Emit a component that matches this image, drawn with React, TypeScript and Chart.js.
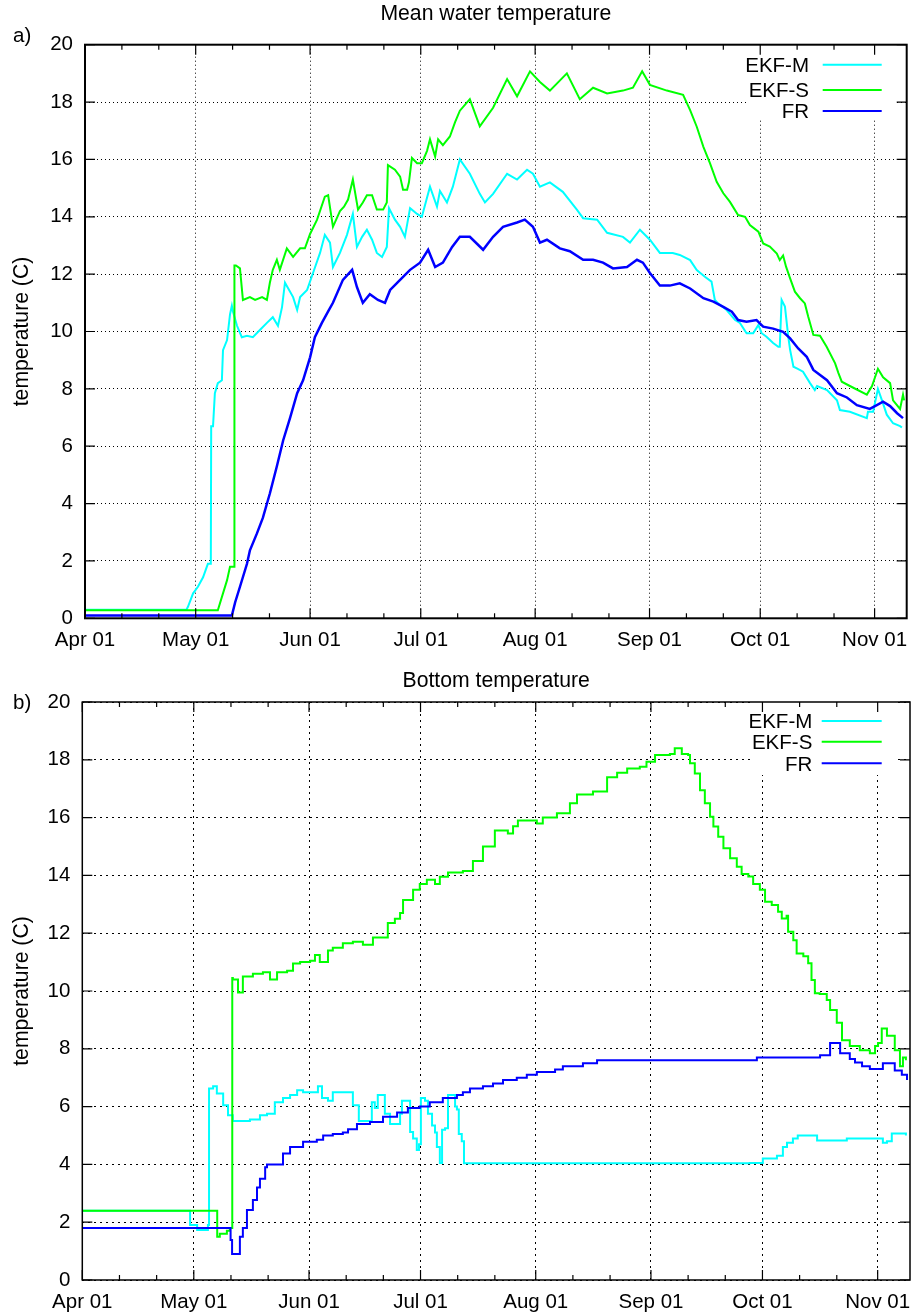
import React, { useEffect, useRef } from 'react';
import { Chart, registerables } from 'chart.js';

Chart.register(...registerables);

const FONT = '"Liberation Sans", Arial, Helvetica, sans-serif';

// x axis: days since Apr 01
const monthTickDays = [0, 30, 61, 91, 122, 153, 183, 214];
const monthTickLabels = ['Apr 01', 'May 01', 'Jun 01', 'Jul 01', 'Aug 01', 'Sep 01', 'Oct 01', 'Nov 01'];
const minorTickDays = [10, 20, 40, 50, 71, 81, 101, 111, 132, 142, 163, 173, 193, 203];
const xMaxDay = 222.7;
const yTickValues = [0, 2, 4, 6, 8, 10, 12, 14, 16, 18, 20];

const seriesNames = ['EKF-M', 'EKF-S', 'FR'];
const seriesColors = ['#00ffff', '#00ff00', '#0000ff'];

const panelTitles = ['Mean water temperature', 'Bottom temperature'];
const panelTags = ['a)', 'b)'];
const yAxisTitle = 'temperature (C)';

type Pt = [number, number];

// a) Mean water temperature  [day since Apr 01, temperature]
const meanEkfM: Pt[] = [
  [0, 0.3], [27.5, 0.3], [27.9, 0.4], [29.3, 0.87], [30.6, 1.1], [32.0, 1.43], [33.3, 1.9], [34.1, 1.9],
  [34.2, 6.7], [34.7, 6.7], [35.2, 7.85], [36.0, 8.2], [37.1, 8.3], [37.4, 9.35], [38.5, 9.7], [39.3, 10.6],
  [39.8, 10.9], [40.1, 10.7], [41.2, 10.2], [42.5, 9.8], [43.9, 9.85], [45.5, 9.8], [47.4, 10.05], [49.3, 10.3],
  [50.9, 10.5], [52.3, 10.2], [53.4, 10.85], [54.2, 11.7], [56.4, 11.2], [57.5, 10.75], [58.3, 11.2], [60.2, 11.45],
  [61.8, 12.04], [63.7, 12.74], [65.0, 13.37], [66.4, 13.1], [67.2, 12.25], [69.1, 12.74], [71.0, 13.37], [72.6, 14.1],
  [73.7, 12.95], [75.1, 13.3], [76.4, 13.55], [77.8, 13.2], [79.1, 12.74], [80.5, 12.6], [81.8, 12.95], [82.4, 14.3],
  [84.0, 13.9], [85.4, 13.65], [86.7, 13.3], [88.1, 14.3], [90.0, 14.1], [91.3, 14.0], [93.5, 15.05], [95.4, 14.35],
  [96.2, 14.9], [98.1, 14.5], [99.7, 15.05], [101.6, 16.0], [104.3, 15.5], [107.0, 14.8], [108.4, 14.5], [110.6, 14.8],
  [114.4, 15.5], [117.1, 15.3], [119.8, 15.64], [121.4, 15.5], [123.3, 15.05], [126.0, 15.2], [129.5, 14.87], [133.3, 14.25],
  [135.0, 13.95], [138.8, 13.9], [141.5, 13.44], [145.8, 13.3], [147.7, 13.1], [150.4, 13.55], [153.1, 13.2], [155.8, 12.74],
  [159.3, 12.74], [161.2, 12.67], [164.0, 12.49], [165.8, 12.14], [168.0, 11.91], [169.8, 11.74], [170.7, 11.1], [171.6, 10.98],
  [173.9, 10.75], [176.2, 10.4], [177.5, 10.3], [179.3, 9.94], [181.1, 9.94], [182.5, 10.23], [183.4, 9.94], [184.7, 9.82],
  [186.5, 9.6], [187.9, 9.47], [188.3, 9.47], [188.8, 11.1], [189.7, 10.87], [190.6, 9.82], [191.1, 9.36], [192.0, 8.77],
  [193.2, 8.7], [194.6, 8.6], [196.5, 8.2], [197.8, 7.96], [198.4, 8.1], [201.1, 7.96], [203.8, 7.6], [204.6, 7.26],
  [207.3, 7.2], [211.9, 6.98], [212.2, 7.2], [213.6, 7.2], [214.9, 8.0], [216.0, 7.6], [217.3, 7.1], [219.0, 6.8],
  [220.9, 6.7], [221.4, 6.65],
];

const meanEkfS: Pt[] = [
  [0, 0.28], [36.0, 0.28], [37.4, 0.87], [38.5, 1.33], [39.3, 1.8], [40.4, 1.8], [40.5, 12.3], [40.9, 12.3],
  [42.0, 12.2], [42.8, 11.1], [44.7, 11.2], [46.1, 11.1], [48.0, 11.2], [49.3, 11.1], [50.1, 11.7], [50.9, 12.15],
  [52.0, 12.5], [52.8, 12.15], [54.7, 12.9], [56.4, 12.6], [58.3, 12.9], [59.6, 12.9], [61.0, 13.4], [62.9, 13.9],
  [65.0, 14.7], [65.9, 14.75], [67.2, 13.65], [69.1, 14.2], [70.2, 14.35], [71.3, 14.6], [72.6, 15.3], [74.0, 14.25],
  [75.3, 14.5], [76.4, 14.75], [77.8, 14.75], [79.1, 14.25], [80.8, 14.25], [81.8, 14.5], [82.1, 15.8], [84.0, 15.64],
  [85.4, 15.4], [86.2, 14.94], [87.3, 14.94], [87.8, 15.2], [88.6, 16.05], [90.0, 15.87], [91.3, 15.87], [92.7, 16.3],
  [93.5, 16.7], [94.9, 16.1], [95.7, 16.7], [97.0, 16.5], [98.9, 16.8], [100.3, 17.3], [101.6, 17.7], [104.3, 18.1],
  [107.0, 17.15], [110.6, 17.8], [114.4, 18.8], [117.1, 18.2], [120.6, 19.07], [123.3, 18.7], [126.0, 18.4], [130.6, 19.0],
  [134.1, 18.1], [137.7, 18.5], [141.5, 18.3], [145.8, 18.4], [148.5, 18.5], [151.0, 19.07], [153.1, 18.6], [157.7, 18.4],
  [162.1, 18.25], [164.0, 17.72], [165.8, 17.14], [167.6, 16.44], [169.4, 15.86], [171.2, 15.22], [173.0, 14.82], [174.8, 14.52],
  [177.0, 14.06], [178.9, 14.0], [180.2, 13.71], [182.5, 13.48], [183.8, 13.07], [185.6, 12.96], [187.5, 12.72], [188.3, 12.49],
  [189.2, 12.65], [190.0, 12.26], [191.1, 11.85], [192.4, 11.39], [193.8, 11.16], [195.1, 10.98], [196.0, 10.52], [197.4, 9.88],
  [199.2, 9.85], [201.0, 9.47], [203.3, 8.89], [204.2, 8.55], [205.1, 8.25], [207.3, 8.1], [211.9, 7.8], [213.3, 8.1],
  [214.9, 8.7], [216.3, 8.4], [218.2, 8.2], [219.0, 7.6], [220.9, 7.3], [221.7, 7.8], [222.0, 7.6],
];

const meanFr: Pt[] = [
  [0, 0.1], [39.8, 0.1], [40.7, 0.56], [42.0, 1.1], [43.9, 1.9], [44.7, 2.37], [46.6, 2.96], [48.2, 3.5],
  [50.1, 4.35], [52.0, 5.3], [53.7, 6.2], [55.6, 7.0], [57.5, 7.85], [59.1, 8.3], [61.0, 9.1], [62.3, 9.8],
  [64.2, 10.3], [65.9, 10.7], [67.2, 11.0], [69.9, 11.8], [72.4, 12.15], [73.7, 11.55], [75.3, 11.0], [77.2, 11.3],
  [79.4, 11.1], [81.3, 11.0], [82.7, 11.45], [85.4, 11.8], [88.1, 12.15], [90.8, 12.4], [93.0, 12.85], [94.9, 12.25],
  [97.0, 12.4], [99.5, 12.95], [101.6, 13.3], [104.3, 13.3], [107.9, 12.85], [110.6, 13.3], [113.3, 13.65], [117.1, 13.8],
  [119.2, 13.9], [121.4, 13.65], [123.3, 13.1], [125.2, 13.2], [128.7, 12.9], [131.4, 12.8], [135.0, 12.5], [137.7, 12.5],
  [140.4, 12.4], [143.1, 12.2], [146.9, 12.25], [149.6, 12.5], [151.2, 12.4], [153.1, 12.04], [155.8, 11.6], [158.5, 11.6],
  [161.2, 11.68], [164.0, 11.5], [167.6, 11.16], [170.3, 11.04], [173.0, 10.86], [175.3, 10.69], [177.0, 10.4], [179.3, 10.34],
  [182.0, 10.4], [183.8, 10.17], [186.5, 10.1], [189.2, 9.99], [191.1, 9.76], [193.3, 9.41], [195.6, 9.12], [197.4, 8.66],
  [201.1, 8.3], [203.8, 7.85], [206.5, 7.7], [209.2, 7.43], [212.7, 7.3], [214.6, 7.43], [216.3, 7.55], [218.2, 7.4],
  [220.1, 7.15], [221.7, 6.98],
];

// b) Bottom temperature  [day since Apr 01, temperature]
const bottomEkfM: Pt[] = [
  [0, 2.4], [28.2, 2.4], [29.0, 1.9], [30.9, 1.73], [33.5, 1.73], [33.8, 1.9], [34.1, 6.63], [35.2, 6.7],
  [36.2, 6.45], [37.0, 6.45], [37.9, 6.05], [39.2, 5.7], [40.5, 5.5], [42.4, 5.5], [45.1, 5.55], [47.8, 5.7],
  [49.7, 5.75], [51.8, 6.15], [54.0, 6.3], [55.9, 6.4], [57.8, 6.57], [59.4, 6.5], [62.1, 6.5], [63.4, 6.7],
  [64.5, 6.3], [66.1, 6.2], [67.4, 6.5], [72.0, 6.5], [72.8, 6.05], [73.9, 6.05], [74.4, 5.5], [76.9, 5.5],
  [77.9, 6.15], [78.7, 5.95], [79.5, 6.4], [80.9, 6.4], [81.4, 5.75], [82.8, 5.4], [84.7, 5.4], [85.5, 5.75],
  [86.0, 6.2], [87.3, 6.2], [88.2, 5.12], [89.0, 4.9], [90.0, 4.5], [90.6, 4.7], [91.1, 6.3], [92.2, 6.2],
  [93.0, 5.75], [94.1, 5.35], [94.9, 5.1], [95.4, 4.6], [96.2, 4.05], [96.8, 5.2], [97.6, 5.25], [98.4, 6.4],
  [99.5, 6.4], [100.3, 6.0], [100.8, 5.9], [101.3, 5.05], [102.1, 4.8], [102.7, 4.04], [179.6, 4.05], [183.1, 4.2],
  [186.9, 4.3], [188.5, 4.6], [189.6, 4.75], [191.2, 4.9], [192.5, 5.0], [197.7, 4.83], [205.7, 4.9], [214.6, 4.9],
  [215.4, 4.75], [216.5, 4.8], [217.8, 5.07], [220.5, 5.07], [221.6, 5.0],
];

const bottomEkfS: Pt[] = [
  [0, 2.4], [36.2, 2.4], [36.3, 1.5], [37.0, 1.6], [38.9, 1.7], [39.7, 1.8], [40.35, 10.45], [40.5, 10.4],
  [41.9, 9.95], [43.2, 10.5], [45.9, 10.6], [48.6, 10.65], [50.5, 10.4], [52.4, 10.65], [55.1, 10.7], [56.7, 10.95],
  [58.6, 11.0], [61.3, 11.05], [62.6, 11.25], [63.9, 11.0], [66.1, 11.4], [67.4, 11.5], [70.1, 11.65], [72.8, 11.7],
  [75.5, 11.6], [78.2, 11.85], [80.9, 11.85], [82.2, 12.35], [84.1, 12.5], [85.5, 12.7], [86.3, 13.15], [89.0, 13.5],
  [90.8, 13.7], [92.7, 13.85], [94.9, 13.7], [96.2, 13.95], [98.4, 14.1], [102.4, 14.15], [105.1, 14.5], [107.8, 15.0],
  [111.0, 15.55], [114.5, 15.45], [115.9, 15.7], [117.2, 15.9], [122.3, 15.8], [123.9, 16.0], [127.7, 16.15], [131.2, 16.5],
  [133.1, 16.8], [137.4, 16.9], [141.2, 17.4], [143.9, 17.55], [146.6, 17.7], [150.0, 17.76], [151.8, 17.93], [154.1, 18.17],
  [158.1, 18.2], [159.4, 18.4], [161.3, 18.2], [163.0, 18.17], [163.5, 17.88], [164.8, 17.53], [166.2, 16.95], [167.5, 16.5],
  [168.9, 16.03], [169.8, 15.69], [171.1, 15.34], [172.5, 14.94], [174.3, 14.59], [176.1, 14.3], [177.4, 14.05], [179.2, 13.96],
  [180.5, 13.7], [182.3, 13.5], [183.7, 13.09], [185.5, 12.98], [187.2, 12.74], [188.2, 12.51], [189.5, 12.6], [189.9, 12.05],
  [191.3, 11.76], [192.2, 11.3], [194.0, 11.2], [195.3, 10.96], [196.2, 10.38], [197.1, 9.92], [198.4, 9.9], [200.3, 9.69],
  [201.2, 9.34], [203.0, 8.9], [204.4, 8.3], [206.5, 8.1], [209.2, 7.95], [211.9, 7.85], [213.3, 8.1], [214.1, 8.2],
  [215.1, 8.7], [216.5, 8.45], [217.8, 8.45], [218.6, 7.95], [220.0, 7.4], [220.8, 7.7], [221.6, 7.6],
];

const bottomFr: Pt[] = [
  [0, 1.8], [39.7, 1.8], [39.9, 1.38], [40.3, 0.9], [41.6, 0.9], [42.4, 1.5], [43.2, 1.8], [44.3, 2.42],
  [45.9, 2.77], [47.0, 3.2], [47.8, 3.5], [49.2, 3.9], [49.7, 4.0], [52.6, 4.0], [54.0, 4.38], [55.9, 4.6],
  [58.6, 4.6], [59.4, 4.78], [63.1, 4.85], [64.8, 5.0], [67.4, 5.05], [70.1, 5.1], [71.5, 5.22], [73.9, 5.4],
  [77.4, 5.47], [80.9, 5.65], [84.7, 5.8], [87.6, 5.95], [90.8, 6.0], [93.5, 6.15], [97.0, 6.3], [100.8, 6.4],
  [102.4, 6.5], [104.3, 6.63], [107.8, 6.7], [110.5, 6.8], [113.2, 6.92], [116.9, 7.0], [119.6, 7.1], [122.3, 7.2],
  [127.2, 7.28], [129.3, 7.4], [134.7, 7.5], [138.5, 7.6], [181.5, 7.7], [198.5, 7.78], [201.2, 8.2], [202.5, 8.2],
  [203.9, 7.85], [206.5, 7.65], [207.9, 7.53], [209.8, 7.4], [211.9, 7.3], [213.8, 7.3], [215.4, 7.5], [217.8, 7.5],
  [218.6, 7.25], [220.5, 7.1], [221.9, 6.92],
];

const panelSeries: Pt[][][] = [
  [meanEkfM, meanEkfS, meanFr],
  [bottomEkfM, bottomEkfS, bottomFr],
];

// ---- layout / style (positions in canvas pixels) ----
const CANVAS_W = 912;
const CANVAS_H = 658;
const TICK_FONT = 20.5;
const TITLE_FONT = 21.2;

const panelStyles = [
  {
    left: 85, right: 906.7, top: 44.7, bottom: 618.3,
    titleY: 14.5, tagBaseline: 41.7, xLabelPad: 10,
    keyTextRight: 809, keyLine: [822.7, 881.7], keyRows: [64.8, 90, 111], keyBox: [747, 895, 118],
    gridDash: [1, 3], frameWidth: 2, lineWidths: [2, 2, 2.5], stepped: false,
  },
  {
    left: 82.3, right: 910, top: 44, bottom: 622,
    titleY: 22.8, tagBaseline: 51, xLabelPad: 10,
    keyTextRight: 812.3, keyLine: [821.7, 881.7], keyRows: [63, 83.7, 105.3], keyBox: [750, 898, 117],
    gridDash: [2, 4], frameWidth: 1.5, lineWidths: [2, 2, 2], stepped: true,
  },
];

function makeDecorPlugin(idx: number) {
  const st = panelStyles[idx];
  return {
    id: 'gnuplotDecor' + idx,
    beforeDatasetsDraw(chart: any) {
      const { ctx, chartArea } = chart;
      ctx.save();
      ctx.fillStyle = '#ffffff';
      ctx.fillRect(st.keyBox[0], chartArea.top, st.keyBox[1] - st.keyBox[0], st.keyBox[2] - chartArea.top);
      ctx.restore();
    },
    afterDatasetsDraw(chart: any) {
      const { ctx, chartArea: a, scales } = chart;
      const xs = scales.x;
      const ys = scales.y;
      ctx.save();
      ctx.strokeStyle = '#000';
      ctx.lineWidth = 1.2;
      ctx.setLineDash([]);
      ctx.beginPath();
      monthTickDays.forEach((d) => {
        const px = xs.getPixelForValue(d);
        ctx.moveTo(px, a.bottom); ctx.lineTo(px, a.bottom - 10);
        ctx.moveTo(px, a.top); ctx.lineTo(px, a.top + 10);
      });
      minorTickDays.forEach((d) => {
        const px = xs.getPixelForValue(d);
        ctx.moveTo(px, a.bottom); ctx.lineTo(px, a.bottom - 5);
        ctx.moveTo(px, a.top); ctx.lineTo(px, a.top + 5);
      });
      yTickValues.forEach((v) => {
        const py = ys.getPixelForValue(v);
        ctx.moveTo(a.left, py); ctx.lineTo(a.left + 10, py);
        ctx.moveTo(a.right, py); ctx.lineTo(a.right - 10, py);
      });
      ctx.stroke();

      ctx.lineWidth = st.frameWidth;
      ctx.strokeRect(a.left, a.top, a.right - a.left, a.bottom - a.top);

      ctx.fillStyle = '#000';
      ctx.font = TICK_FONT + 'px ' + FONT;
      ctx.textBaseline = 'alphabetic';
      ctx.textAlign = 'left';
      ctx.fillText(panelTags[idx], 13, st.tagBaseline);

      chart.data.datasets.forEach((ds: any, i: number) => {
        const yy = st.keyRows[i];
        ctx.fillStyle = '#000';
        ctx.textAlign = 'right';
        ctx.fillText(ds.label, st.keyTextRight, yy + 7.3);
        ctx.strokeStyle = ds.borderColor;
        ctx.lineWidth = 2;
        ctx.beginPath();
        ctx.moveTo(st.keyLine[0], yy);
        ctx.lineTo(st.keyLine[1], yy);
        ctx.stroke();
      });
      ctx.restore();
    },
  };
}

function Panel({ idx }: { idx: number }) {
  const ref = useRef<HTMLCanvasElement | null>(null);
  useEffect(() => {
    const canvas = ref.current;
    if (!canvas) return;
    const st = panelStyles[idx];
    const titleLine = TITLE_FONT * 1.2;
    const datasets = panelSeries[idx].map((pts, i) => ({
      label: seriesNames[i],
      data: pts.map(([x, y]) => ({ x, y })),
      borderColor: seriesColors[i],
      backgroundColor: seriesColors[i],
      borderWidth: st.lineWidths[i],
      pointRadius: 0,
      fill: false,
      tension: 0,
      stepped: st.stepped,
      order: 3 - i,
    }));
    const chart = new Chart(canvas, {
      type: 'line',
      data: { datasets },
      options: {
        animation: false,
        responsive: false,
        devicePixelRatio: 1,
        events: [],
        layout: { padding: { left: 0, right: CANVAS_W - st.right, top: 0, bottom: 0 } },
        plugins: {
          legend: { display: false },
          tooltip: { enabled: false },
          title: {
            display: true,
            text: panelTitles[idx],
            fullSize: false,
            color: '#000',
            font: { family: FONT, size: TITLE_FONT, weight: 'normal' },
            padding: { top: st.titleY - titleLine / 2, bottom: st.top - (st.titleY - titleLine / 2) - titleLine },
          },
        },
        scales: {
          x: {
            type: 'linear',
            min: 0,
            max: xMaxDay,
            afterBuildTicks: (scale: any) => {
              scale.ticks = monthTickDays.map((v) => ({ value: v }));
            },
            afterFit: (scale: any) => {
              scale.height = CANVAS_H - st.bottom;
              scale.paddingLeft = 0;
              scale.paddingRight = 0;
            },
            ticks: {
              autoSkip: false,
              maxRotation: 0,
              color: '#000',
              font: { family: FONT, size: TICK_FONT },
              padding: st.xLabelPad,
              callback: (v: any) => {
                const k = monthTickDays.indexOf(Number(v));
                return k >= 0 ? monthTickLabels[k] : '';
              },
            },
            grid: { color: '#000', lineWidth: 1, drawTicks: false },
            border: { display: false, dash: st.gridDash },
          },
          y: {
            type: 'linear',
            min: 0,
            max: 20,
            afterFit: (scale: any) => {
              scale.width = st.left;
            },
            ticks: {
              stepSize: 2,
              color: '#000',
              font: { family: FONT, size: TICK_FONT },
              padding: 12,
            },
            grid: { color: '#000', lineWidth: 1, drawTicks: false },
            border: { display: false, dash: st.gridDash },
            title: {
              display: true,
              text: yAxisTitle,
              color: '#000',
              font: { family: FONT, size: TITLE_FONT },
              padding: { top: 22 - titleLine / 2, bottom: 0 },
            },
          },
        },
      },
      plugins: [makeDecorPlugin(idx)],
    } as any);
    return () => chart.destroy();
  }, [idx]);
  return <canvas ref={ref} width={CANVAS_W} height={CANVAS_H} style={{ display: 'block', width: CANVAS_W, height: CANVAS_H }} />;
}

export default function App() {
  return (
    <div style={{ position: 'absolute', left: 0, top: 0, width: CANVAS_W, height: CANVAS_H * 2, background: '#fff' }}>
      <Panel idx={0} />
      <Panel idx={1} />
    </div>
  );
}
